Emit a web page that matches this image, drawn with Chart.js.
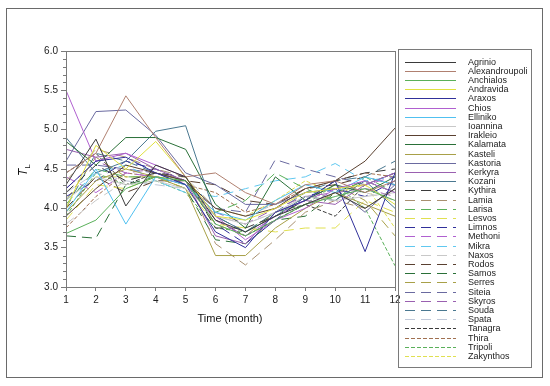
<!DOCTYPE html>
<html lang="en">
  <head>
    <meta charset="UTF-8" />
    <title>Linke turbidity by station</title>
    <script src="https://cdn.jsdelivr.net/npm/chart.js"></script>
    <style>
      * {
        margin: 0;
        padding: 0;
        box-sizing: border-box;
      }
      body {
        background-color: #ffffff;
        width: 550px;
        height: 386px;
        overflow: hidden;
      }
    </style>
  </head>
  <body>
    <canvas id="tlChart" width="550" height="386"></canvas>

    <script>
      const months = [1, 2, 3, 4, 5, 6, 7, 8, 9, 10, 11, 12];
      const yTicks = [3.0, 3.5, 4.0, 4.5, 5.0, 5.5, 6.0];

      const stations = [
        "Agrinio", "Alexandroupoli", "Anchialos", "Andravida", "Araxos",
        "Chios", "Elliniko", "Ioannina", "Irakleio", "Kalamata", "Kasteli",
        "Kastoria", "Kerkyra", "Kozani", "Kythira", "Lamia", "Larisa",
        "Lesvos", "Limnos", "Methoni", "Mikra", "Naxos", "Rodos", "Samos",
        "Serres", "Siteia", "Skyros", "Souda", "Spata", "Tanagra", "Thira",
        "Tripoli", "Zakynthos",
      ];

      // monthly T_L per station
      const agrinio = [4.30, 4.88, 4.03, 4.55, 4.40, 3.85, 3.70, 3.90, 4.05, 4.20, 4.00, 4.25];
      const alexandroupoli = [4.45, 4.70, 5.43, 4.90, 4.40, 4.45, 4.20, 4.05, 4.30, 4.35, 4.20, 4.35];
      const anchialos = [3.68, 3.85, 4.25, 4.40, 4.35, 3.80, 3.65, 3.85, 4.05, 4.15, 4.25, 4.10];
      const andravida = [4.00, 4.80, 4.50, 4.85, 4.40, 3.90, 3.85, 4.00, 4.20, 4.25, 4.30, 4.05];
      const araxos = [4.25, 4.60, 4.65, 4.45, 4.30, 3.70, 3.50, 3.95, 4.10, 4.35, 3.45, 4.45];
      const chios = [5.50, 4.60, 4.70, 4.55, 4.40, 3.90, 3.60, 3.85, 4.00, 4.25, 4.35, 4.20];
      const elliniko = [3.95, 4.50, 3.80, 4.40, 4.30, 3.95, 3.85, 4.10, 4.30, 4.20, 4.40, 4.30];
      const ioannina = [4.10, 4.40, 4.30, 4.35, 4.25, 3.90, 3.80, 3.95, 4.15, 4.10, 4.15, 4.20];
      const irakleio = [3.90, 4.25, 4.55, 4.45, 4.35, 4.00, 3.90, 4.00, 4.25, 4.35, 4.60, 5.02];
      const kalamata = [4.85, 4.55, 4.90, 4.90, 4.75, 4.05, 3.75, 4.40, 4.10, 4.30, 4.20, 4.40];
      const kasteli = [3.95, 4.35, 4.50, 4.40, 4.25, 3.40, 3.40, 3.75, 4.00, 4.20, 4.05, 3.90];
      const kastoria = [4.60, 5.23, 5.25, 4.93, 4.45, 4.30, 4.05, 4.05, 4.20, 4.25, 3.95, 4.30];
      const kerkyra = [4.75, 4.65, 4.70, 4.50, 4.35, 3.65, 3.55, 3.95, 4.10, 4.05, 4.30, 4.45];
      const kozani = [4.90, 4.45, 4.60, 4.98, 5.05, 3.90, 3.70, 3.90, 4.15, 4.10, 4.35, 4.00];
      const kythira = [4.20, 4.55, 4.35, 4.45, 4.40, 3.75, 3.75, 3.90, 4.10, 4.35, 4.45, 4.50];
      const lamia = [4.35, 4.75, 4.65, 4.50, 4.40, 3.55, 3.28, 3.60, 3.95, 4.10, 4.00, 4.25];
      const larisa = [4.05, 4.50, 4.40, 4.40, 4.30, 3.95, 4.10, 4.45, 4.25, 4.10, 4.40, 4.20];
      const lesvos = [3.85, 4.30, 4.25, 4.40, 4.25, 3.80, 3.75, 3.70, 3.75, 3.75, 4.10, 3.95];
      const limnos = [4.15, 4.35, 4.60, 4.50, 4.35, 3.80, 3.55, 3.85, 4.15, 4.25, 4.15, 4.35];
      const methoni = [4.40, 4.20, 4.45, 4.40, 4.30, 3.85, 3.65, 3.90, 4.10, 4.25, 4.30, 4.40];
      const mikra = [4.10, 4.45, 4.55, 4.35, 4.20, 4.15, 4.25, 4.35, 4.40, 4.57, 4.35, 4.40];
      const naxos = [3.80, 4.10, 4.35, 4.45, 4.40, 4.00, 3.90, 4.05, 4.20, 4.25, 4.20, 4.10];
      const rodos = [4.00, 4.40, 4.20, 4.35, 4.35, 4.30, 4.10, 4.05, 4.25, 4.30, 4.40, 4.30];
      const samos = [3.65, 3.62, 4.30, 4.40, 4.25, 3.60, 3.55, 3.85, 3.90, 4.20, 4.35, 4.20];
      const serres = [4.10, 4.65, 4.40, 4.40, 4.40, 3.80, 3.65, 3.95, 4.10, 4.30, 4.10, 3.65];
      const siteia = [4.55, 4.55, 4.50, 4.45, 4.30, 4.00, 3.95, 4.62, 4.50, 4.40, 4.30, 4.45];
      const skyros = [4.25, 4.60, 4.45, 4.50, 4.30, 3.95, 3.80, 4.00, 4.15, 4.20, 4.25, 4.15];
      const souda = [4.00, 4.70, 4.60, 4.45, 4.35, 3.90, 3.70, 3.95, 4.20, 4.35, 4.40, 4.60];
      const spata = [4.20, 4.45, 4.35, 4.30, 4.25, 3.90, 3.80, 3.95, 4.15, 4.25, 4.25, 4.30];
      const tanagra = [4.45, 4.70, 4.30, 4.45, 4.35, 3.85, 3.65, 3.85, 4.05, 3.90, 4.30, 4.45];
      const thira = [3.75, 4.15, 4.45, 4.40, 4.30, 4.20, 3.95, 4.05, 4.25, 4.35, 4.45, 4.40];
      const tripoli = [3.90, 4.45, 4.30, 4.35, 4.20, 3.75, 3.70, 3.95, 4.05, 4.30, 4.00, 3.27];
      const zakynthos = [4.00, 4.40, 4.40, 4.40, 4.35, 4.00, 3.90, 4.10, 4.35, 4.20, 4.30, 3.75];

      const series = [
        agrinio, alexandroupoli, anchialos, andravida, araxos, chios,
        elliniko, ioannina, irakleio, kalamata, kasteli, kastoria, kerkyra,
        kozani, kythira, lamia, larisa, lesvos, limnos, methoni, mikra, naxos,
        rodos, samos, serres, siteia, skyros, souda, spata, tanagra, thira,
        tripoli, zakynthos,
      ];

      const lineColors = [
        "#3a3a3a", "#b08070", "#5ab05a", "#e0e040", "#30309a", "#b060d0",
        "#50c0f0", "#c8c8c8", "#5a4030", "#2a7038", "#a8a048", "#6a6aa0",
        "#9a60b0", "#4a7890",
        "#3a3a3a", "#a89070", "#5ab05a", "#e0e050", "#30309a", "#b060d0",
        "#60c8f0", "#c8c8c8", "#5a4030", "#2a7038", "#a8a048", "#6a6aa0",
        "#9a60b0", "#4a7890", "#c0c8d8",
        "#3a3a3a", "#a07050", "#5ab05a", "#e0e050",
      ];

      // 0 = solid, 1 = long dash, 2 = short dash
      const lineStyles = [
        0, 0, 0, 0, 0, 0, 0, 0, 0, 0, 0, 0, 0, 0,
        1, 1, 1, 1, 1, 1, 1, 1, 1, 1, 1, 1, 1, 1, 1,
        2, 2, 2, 2,
      ];
      const dashes = [[], [10, 6], [4, 2]];

      const FONT = "Arial, 'Liberation Sans', sans-serif";
      const AXIS_GRAY = "#7a7a7a";

      // frame, box, minor ticks, titles and legend
      const decorPlugin = {
        id: "decor",
        afterDraw(chart) {
          const ctx = chart.ctx;
          const area = chart.chartArea;
          const yScale = chart.scales.y;
          ctx.save();

          // outer frame
          ctx.strokeStyle = "#6a6a6a";
          ctx.lineWidth = 1;
          ctx.strokeRect(6.5, 8.5, 536, 369);

          // plot box
          ctx.strokeStyle = AXIS_GRAY;
          ctx.strokeRect(area.left + 0.5, area.top + 0.5, area.right - area.left, area.bottom - area.top);

          // minor y ticks
          for (let i = 30; i <= 60; i++) {
            if (i % 5 === 0) continue;
            const py = Math.round(yScale.getPixelForValue(i / 10)) + 0.5;
            ctx.beginPath();
            ctx.moveTo(area.left - 3, py);
            ctx.lineTo(area.left, py);
            ctx.stroke();
          }

          // y title: T_L
          ctx.fillStyle = "#111111";
          ctx.translate(27, 170);
          ctx.rotate(-Math.PI / 2);
          ctx.textBaseline = "alphabetic";
          ctx.textAlign = "left";
          ctx.font = "italic 12px " + FONT;
          ctx.fillText("T", -6, 0);
          const tw = ctx.measureText("T").width;
          ctx.font = "8px " + FONT;
          ctx.fillText("L", -6 + tw, 3);
          ctx.setTransform(1, 0, 0, 1, 0, 0);

          // x title
          ctx.font = "11px " + FONT;
          ctx.textAlign = "center";
          ctx.textBaseline = "middle";
          ctx.fillText("Time (month)", 230, 319);

          // legend
          ctx.strokeStyle = AXIS_GRAY;
          ctx.strokeRect(398.5, 49.5, 133, 318);
          ctx.font = "9px " + FONT;
          ctx.textAlign = "left";
          chart.data.datasets.forEach((ds, i) => {
            const ly = Math.round(61.5 + i * 9.2) + 0.5;
            ctx.strokeStyle = ds.borderColor;
            ctx.setLineDash(ds.borderDash);
            ctx.beginPath();
            ctx.moveTo(405, ly);
            ctx.lineTo(456, ly);
            ctx.stroke();
            ctx.setLineDash([]);
            ctx.fillStyle = "#222222";
            ctx.fillText(ds.label, 468, ly);
          });

          ctx.restore();
        },
      };

      function buildDatasets() {
        return stations.map((name, i) => ({
          label: name,
          data: months.map((m, j) => ({ x: m, y: series[i][j] })),
          borderColor: lineColors[i],
          borderWidth: 1,
          borderDash: dashes[lineStyles[i]],
          pointRadius: 0,
          tension: 0,
          fill: false,
        }));
      }

      new Chart(document.getElementById("tlChart"), {
        type: "line",
        data: { datasets: buildDatasets() },
        options: {
          responsive: false,
          animation: false,
          devicePixelRatio: 1,
          layout: {
            padding: { top: 51, right: 155, left: 0, bottom: 0 },
          },
          plugins: {
            legend: { display: false },
            tooltip: { enabled: false },
          },
          scales: {
            x: {
              type: "linear",
              min: 1,
              max: 12,
              afterBuildTicks: (scale) => {
                scale.ticks = months.map((m) => ({ value: m }));
              },
              afterFit: (scale) => {
                scale.height = 99;
              },
              ticks: {
                color: "#222222",
                font: { family: FONT, size: 10 },
                padding: 3,
                maxRotation: 0,
              },
              grid: {
                display: true,
                drawOnChartArea: false,
                drawTicks: true,
                tickLength: 4,
                color: AXIS_GRAY,
              },
              border: { color: AXIS_GRAY },
            },
            y: {
              min: 3,
              max: 6,
              afterBuildTicks: (scale) => {
                scale.ticks = yTicks.map((v) => ({ value: v }));
              },
              afterFit: (scale) => {
                scale.width = 66;
              },
              ticks: {
                color: "#222222",
                font: { family: FONT, size: 10 },
                padding: 3,
                callback: (v) => Number(v).toFixed(1),
              },
              grid: {
                display: true,
                drawOnChartArea: false,
                drawTicks: true,
                tickLength: 5,
                color: AXIS_GRAY,
              },
              border: { color: AXIS_GRAY },
            },
          },
        },
        plugins: [decorPlugin],
      });
    </script>
  </body>
</html>
